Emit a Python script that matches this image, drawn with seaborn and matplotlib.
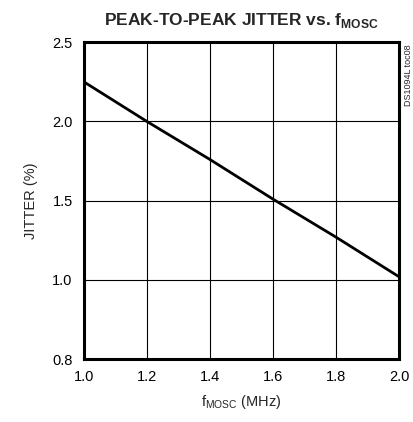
import numpy as np
import matplotlib
matplotlib.use("Agg")
import matplotlib.pyplot as plt
import seaborn as sns

sns.set_style("white")
plt.rcParams["font.family"] = ["Liberation Sans", "DejaVu Sans"]
plt.rcParams.update({
    "mathtext.fontset": "custom",
    "mathtext.rm": "Liberation Sans",
    "mathtext.bf": "Liberation Sans:bold",
})

# data
freq_mhz = [1.0, 1.2, 1.4, 1.6, 1.8, 2.0]
jitter_pct = [2.25, 2.00, 1.76, 1.51, 1.27, 1.02]
x_ticks = [1.0, 1.2, 1.4, 1.6, 1.8, 2.0]
y_ticks = [0.8, 1.0, 1.5, 2.0, 2.5]


# broken-looking y axis: 0.8..1.0 takes the same height as each 0.5 step
def fwd(y):
    y = np.asarray(y, dtype=float)
    return np.where(y < 1.0, (y - 0.8) / 0.2, 1.0 + (y - 1.0) / 0.5)


def inv(v):
    v = np.asarray(v, dtype=float)
    return np.where(v < 1.0, 0.8 + v * 0.2, 1.0 + (v - 1.0) * 0.5)


fig = plt.figure(figsize=(4.13, 4.22), dpi=100)
ax = fig.add_axes([0.203, 0.149, 0.763, 0.751])

sns.lineplot(x=freq_mhz, y=jitter_pct, ax=ax, color="black", linewidth=2.0)

ax.set_yscale("function", functions=(fwd, inv))
ax.set_xlim(1.0, 2.0)
ax.set_ylim(0.8, 2.5)
ax.set_xticks(x_ticks)
ax.set_xticklabels([f"{v:.1f}" for v in x_ticks])
ax.set_yticks(y_ticks)
ax.set_yticklabels([f"{v:.1f}" for v in y_ticks])
ax.yaxis.set_minor_locator(matplotlib.ticker.NullLocator())
ax.tick_params(length=0, labelsize=10.5, pad=8, colors="black")

for xv in x_ticks[1:-1]:
    ax.axvline(xv, color="black", linewidth=0.8, zorder=0)
for yv in y_ticks[1:-1]:
    ax.axhline(yv, color="black", linewidth=0.8, zorder=0)

for s in ax.spines.values():
    s.set_linewidth(2.2)
    s.set_color("black")

ax.set_xlabel("f$_{\\mathrm{MOSC}}$ (MHz)", fontsize=10.5, labelpad=6)
ax.set_ylabel("JITTER (%)", fontsize=10.5, labelpad=10)
fig.text(0.584, 0.952, "PEAK-TO-PEAK JITTER vs. f$_{\\mathbf{MOSC}}$",
         ha="center", va="center", fontsize=12.5, fontweight="bold")
fig.text(0.988, 0.822, "DS1094L toc08", rotation=90, ha="center", va="center", fontsize=6.5)

fig.savefig("out.png", dpi=100)
